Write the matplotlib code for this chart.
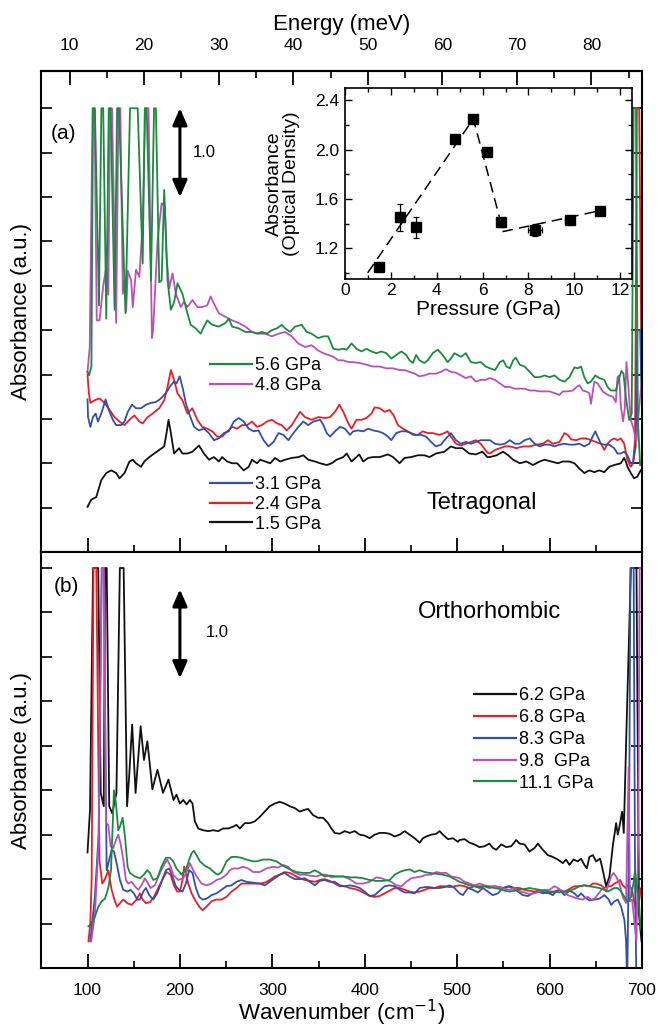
import numpy as np
import matplotlib
matplotlib.use("Agg")
import matplotlib.pyplot as plt
from matplotlib.ticker import MultipleLocator, NullFormatter
from matplotlib.lines import Line2D

plt.rcParams['font.family'] = ['Liberation Sans', 'DejaVu Sans']

# ---------------- data: panel (a) tetragonal (offset absorbance) ----------------
a56_wn = [100, 101.7, 104.2, 106, 108, 112.4, 115, 117, 120.3, 123, 125, 129.3, 132, 134, 141.1, 146, 154.3,
          159.7, 162, 164, 168.7, 172, 174, 177.6, 180.2, 183, 186.6, 190.2, 193.8, 197.4, 202.7, 208.1, 211.7,
          217.1, 222.4, 226, 229.6, 235, 242.2, 249.3, 252.9, 256.5, 263.7, 270.8, 278, 283.4, 288.8, 294.1,
          299.5, 304.9, 310.3, 313.8, 319.2, 324.6, 331.8, 337.1, 342.5, 349.7, 355.1, 360.4, 366, 371.4, 376.8,
          380.4, 385.7, 391.1, 396.5, 401.9, 407.3, 412.6, 418, 423.4, 428.8, 434.1, 439.5, 444.9, 448.5, 452.1,
          455.6, 459.2, 464.6, 468.2, 473.6, 479, 484.3, 489.7, 493.3, 496.9, 500.5, 504.1, 509.4, 514.8, 520.2,
          525.5, 530.9, 535.5, 540.9, 546.3, 549.8, 553.4, 557, 560.6, 563.5, 567.8, 573.1, 578.5, 583.9, 589.3,
          594.6, 600, 605.4, 610.8, 616.1, 621.5, 626.9, 630.5, 634.1, 637.6, 641.2, 644.8, 649.5, 653.8, 659.2,
          662.7, 666.3, 671.7, 675.3, 677.8, 680, 682.5, 686.1, 688.9, 691, 693.5, 695.5, 698]
a56_ab = [2.03, 1.99, 2.09, 5.0, 5.0, 2.78, 5.0, 5.0, 2.63, 5.0, 5.0, 2.73, 5.0, 5.0, 2.69, 5.0, 5.0,
          3.25, 5.0, 5.0, 3.06, 5.0, 5.0, 3.04, 3.06, 4.08, 3.06, 2.73, 2.82, 3.03, 2.91, 2.69, 2.56,
          2.52, 2.46, 2.54, 2.61, 2.56, 2.54, 2.58, 2.63, 2.54, 2.52, 2.48, 2.48, 2.46, 2.48, 2.46,
          2.50, 2.52, 2.56, 2.52, 2.48, 2.54, 2.56, 2.48, 2.46, 2.41, 2.43, 2.43, 2.29, 2.28, 2.29,
          2.28, 2.35, 2.29, 2.26, 2.29, 2.26, 2.24, 2.26, 2.24, 2.18, 2.22, 2.26, 2.22, 2.16, 2.13,
          2.22, 2.16, 2.13, 2.16, 2.24, 2.28, 2.22, 2.14, 2.18, 2.24, 2.22, 2.20, 2.24, 2.14, 2.13,
          2.14, 2.09, 2.07, 2.05, 2.14, 2.16, 2.09, 2.07, 2.16, 2.19, 2.11, 2.09, 2.03, 1.97, 1.97,
          1.99, 1.97, 1.99, 1.94, 1.92, 1.97, 2.08, 2.07, 2.09, 1.97, 1.90, 1.92, 1.99, 1.96, 1.94,
          1.86, 1.82, 1.82, 1.96, 2.04, 2.01, 1.75, 1.49, 1.56, 5.0, 5.0, 1.5, 0.98]

a48_wn = [100, 102.4, 105.5, 107.5, 110, 113, 117, 120.3, 122.5, 124.5, 126.5, 131, 133.5, 135.5, 138.2, 140,
          141.8, 143.6, 147.2, 149, 152.5, 156.1, 159.7, 162.5, 166, 169.7, 171, 175.8, 180.2, 183.7, 185.5,
          188.4, 192, 195.6, 200.9, 204.5, 208.1, 213.5, 218.9, 224.2, 229.6, 233.2, 236.8, 242.2, 249.3,
          256.5, 263.7, 270.8, 278, 285.2, 292.3, 299.5, 306.7, 313.8, 321, 328.2, 335.3, 342.5, 349.7, 355.1,
          360.4, 366, 371.4, 376.8, 382.2, 387.5, 394.7, 401.9, 409.1, 416.2, 423.4, 430.6, 437.7, 443.1, 448.5,
          453.8, 459.2, 464.6, 470, 477.1, 482.5, 487.9, 493.3, 498.7, 504.1, 509.4, 514.8, 520.2, 525.5, 530.9,
          535.5, 540.9, 546.3, 551.6, 557, 562.4, 567.8, 573.1, 578.5, 583.9, 589.3, 594.6, 600, 605.4, 610.8,
          614.4, 619.8, 625.1, 629.4, 632.3, 635.9, 639.4, 643, 644.8, 648.4, 652, 657.4, 662.9, 668.3, 671.7,
          673.5, 675.3, 677.1, 679.6, 681.4, 683.2, 685.3, 687.8, 690.3, 694, 697, 699.5]
a48_ab = [2.03, 2.31, 5.0, 5.0, 2.61, 2.61, 3.0, 3.21, 2.9, 5.0, 5.0, 2.58, 5.0, 5.0, 2.91, 3.06,
          2.71, 3.17, 3.06, 2.76, 3.18, 3.10, 3.70, 5.0, 5.0, 2.41, 2.5, 3.51, 3.93, 3.89, 3.33,
          2.97, 3.14, 2.91, 2.76, 2.82, 2.76, 2.84, 2.76, 2.76, 2.78, 2.88, 2.80, 2.69, 2.65,
          2.61, 2.58, 2.54, 2.48, 2.46, 2.46, 2.43, 2.46, 2.48, 2.43, 2.35, 2.31, 2.33, 2.27, 2.24,
          2.22, 2.20, 2.16, 2.16, 2.14, 2.14, 2.13, 2.11, 2.09, 2.09, 2.07, 2.07, 2.05, 2.05, 2.03,
          2.01, 1.98, 1.99, 2.01, 2.01, 2.03, 2.06, 2.03, 2.02, 1.99, 1.96, 1.98, 1.92, 1.94, 1.94,
          1.96, 1.94, 1.90, 1.86, 1.86, 1.84, 1.84, 1.84, 1.82, 1.82, 1.81, 1.81, 1.81, 1.79, 1.77,
          1.81, 1.81, 1.82, 1.86, 1.88, 1.82, 1.81, 1.79, 1.67, 1.92, 1.90, 1.81, 1.77, 1.75, 1.69,
          1.97, 1.99, 1.64, 1.47, 1.62, 2.14, 1.86, 1.49, 1.41, 1.25, 1.64, 1.9]

a31_wn = [100, 100.6, 103.1, 105.9, 108.8, 111.3, 114.9, 119.6, 123.1, 127.4, 131, 136.4, 140, 143.6, 148.2,
          152.5, 157.9, 163.3, 168.7, 174, 179.4, 184.8, 190.2, 193.7, 196.3, 199.8, 203.4, 206.3, 209.9, 215.3,
          220.6, 226, 231.4, 236.8, 242.1, 247.5, 252.9, 258.3, 263.6, 269, 274.4, 279.8, 285.1, 290.5, 295.9,
          301.3, 306.7, 312, 317.4, 322.8, 328.2, 333.5, 338.9, 344.3, 351.7, 355.3, 358.9, 362.5, 367.8, 373.2,
          378.6, 384, 387.5, 392.9, 398.3, 403.7, 409.1, 414.4, 419.8, 425.2, 428.8, 434.1, 439.5, 444.9, 450.3,
          455.6, 461, 466.4, 471.8, 477.1, 482.5, 487.9, 493.3, 498.7, 504.1, 509.4, 514.8, 520.2, 525.5, 530.9,
          535.5, 540.9, 546.3, 551.6, 557, 562.4, 567.8, 573.1, 578.5, 583.9, 589.3, 594.6, 600, 605.4, 610.8,
          616.1, 621.5, 626.9, 632.3, 637.6, 643, 646.6, 649.5, 652, 655.6, 659.2, 664.5, 669.9, 673.5, 677.1,
          680.7, 684.2, 687.8, 690.3, 693.2, 695, 698, 699.5]
a31_ab = [1.72, 1.52, 1.41, 1.52, 1.56, 1.47, 1.56, 1.72, 1.60, 1.49, 1.43, 1.43, 1.47, 1.58, 1.66,
          1.62, 1.62, 1.66, 1.68, 1.69, 1.73, 1.79, 1.88, 1.92, 1.90, 1.98, 1.83, 1.68, 1.56, 1.41,
          1.37, 1.39, 1.34, 1.26, 1.28, 1.34, 1.36, 1.47, 1.51, 1.47, 1.39, 1.36, 1.37, 1.26, 1.19,
          1.24, 1.34, 1.32, 1.26, 1.34, 1.41, 1.47, 1.43, 1.47, 1.49, 1.43, 1.34, 1.30, 1.36, 1.41,
          1.39, 1.32, 1.36, 1.37, 1.36, 1.39, 1.37, 1.36, 1.34, 1.30, 1.26, 1.34, 1.36, 1.36, 1.34,
          1.32, 1.32, 1.30, 1.24, 1.19, 1.21, 1.28, 1.34, 1.26, 1.22, 1.24, 1.22, 1.24, 1.26, 1.26,
          1.26, 1.22, 1.21, 1.22, 1.26, 1.22, 1.22, 1.26, 1.28, 1.22, 1.19, 1.21, 1.21, 1.19, 1.21,
          1.22, 1.21, 1.21, 1.22, 1.19, 1.22, 1.30, 1.36, 1.30, 1.22, 1.21, 1.21, 1.17, 1.11, 1.11,
          1.13, 1.09, 1.00, 1.00, 1.19, 2.5, 2.5, 1.8]

a24_wn = [100, 101.5, 103.1, 107.7, 113.1, 118.5, 123.9, 129.2, 134.6, 140, 145.4, 150.7, 156.1, 159.7, 165.1,
          170.5, 177.6, 183, 186.6, 190.2, 193.7, 197.3, 202.7, 208.1, 213.5, 218.8, 224.2, 229.6, 235, 240.3,
          245.7, 251.1, 256.5, 261.9, 267.2, 272.6, 278, 283.4, 288.7, 294.1, 299.5, 304.9, 310.2, 315.6, 321,
          326.4, 330, 335.3, 342.5, 349.7, 357.1, 362.5, 367.8, 372.5, 376.8, 382.2, 385.7, 391.1, 396.5, 401.9,
          407.3, 410.8, 416.2, 421.6, 427, 431.3, 435.9, 441.3, 446.7, 452.1, 457.4, 462.8, 468.2, 473.6, 480.7,
          486.1, 489.7, 493.3, 498.7, 504.1, 509.4, 514.8, 520.2, 525.5, 529.1, 532.7, 535.5, 540.9, 546.3, 551.6,
          557, 564.2, 571.3, 578.5, 585.7, 592.8, 598.2, 603.6, 610.8, 616.1, 619.7, 623.3, 628.7, 634.1, 639.4,
          644.8, 650.2, 655.6, 659.2, 662.7, 666.3, 669.9, 673.5, 677.1, 680.7, 684.2, 687.8, 690.3, 692.5, 694.5,
          697, 699.5]
a24_ab = [2.0, 1.79, 1.68, 1.71, 1.73, 1.68, 1.60, 1.52, 1.47, 1.43, 1.49, 1.54, 1.47, 1.45, 1.52,
          1.56, 1.62, 1.71, 1.86, 2.05, 1.94, 1.79, 1.71, 1.56, 1.62, 1.49, 1.41, 1.39, 1.36, 1.30,
          1.30, 1.36, 1.41, 1.39, 1.43, 1.43, 1.47, 1.41, 1.43, 1.47, 1.49, 1.45, 1.43, 1.37, 1.43,
          1.52, 1.58, 1.52, 1.49, 1.52, 1.51, 1.52, 1.58, 1.66, 1.58, 1.45, 1.39, 1.49, 1.49, 1.51,
          1.56, 1.63, 1.62, 1.58, 1.60, 1.54, 1.43, 1.39, 1.36, 1.32, 1.32, 1.36, 1.34, 1.34, 1.32,
          1.34, 1.36, 1.30, 1.22, 1.20, 1.22, 1.24, 1.26, 1.22, 1.17, 1.12, 1.11, 1.15, 1.17, 1.19,
          1.19, 1.17, 1.19, 1.19, 1.21, 1.22, 1.26, 1.22, 1.24, 1.34, 1.32, 1.27, 1.26, 1.28, 1.28,
          1.26, 1.24, 1.22, 1.15, 1.22, 1.26, 1.28, 1.26, 1.28, 1.22, 1.04, 0.96, 1.00, 1.26, 5.0,
          5.0, 2.0]

a15_wn = [100, 104.1, 109.5, 114.9, 120.3, 125.6, 131, 134.6, 140, 145.4, 149, 152.5, 157.9, 161.5, 166.9,
          172.2, 177.6, 183, 185.5, 187.7, 190.2, 193.7, 199.1, 202.7, 208.1, 213.5, 220.6, 226, 231.4, 236.8,
          242.1, 245.7, 251.1, 256.5, 261.9, 269, 274.4, 278, 283.4, 287, 292.3, 297.7, 303, 308.4, 313.8, 321,
          328.2, 333.5, 338.9, 346.1, 351.7, 358.9, 364.2, 369.6, 376.8, 380.4, 385.7, 391.1, 394, 398.3, 403.7,
          409.1, 416.2, 425.2, 430.6, 437.7, 443.1, 450.3, 457.4, 464.6, 470, 477.1, 486.1, 493.3, 498.7, 505.8,
          513, 520.2, 527.3, 532.7, 535.5, 542.7, 549.8, 555.2, 560.6, 567.8, 574.9, 582.1, 589.3, 594.6, 601.8,
          609, 614.4, 621.5, 626.9, 632.3, 637.6, 643, 648.4, 653.8, 659.2, 664.5, 669.9, 677.1, 680.7, 682.5,
          684.3, 687.9, 691.4, 695, 698.6]
a15_ab = [0.51, 0.59, 0.62, 0.81, 0.89, 0.92, 0.89, 0.83, 0.89, 1.02, 1.04, 1.00, 0.96, 1.02, 1.07,
          1.11, 1.15, 1.19, 1.34, 1.49, 1.34, 1.11, 1.17, 1.11, 1.11, 1.13, 1.20, 1.11, 1.04, 1.07,
          1.02, 1.07, 1.02, 1.00, 1.00, 0.92, 0.96, 1.04, 1.00, 1.04, 1.02, 1.00, 1.06, 1.02, 1.04, 1.06,
          1.07, 1.09, 1.04, 1.02, 1.00, 0.98, 1.00, 1.04, 1.07, 1.11, 1.02, 1.07, 1.10, 1.02, 1.06,
          1.07, 1.07, 1.10, 1.07, 1.00, 1.06, 1.07, 1.09, 1.09, 1.07, 1.11, 1.13, 1.19, 1.17, 1.17,
          1.11, 1.10, 1.13, 1.07, 1.07, 1.09, 1.13, 1.09, 1.04, 1.00, 1.02, 0.98, 1.02, 1.04, 1.02,
          1.00, 1.02, 1.02, 1.00, 0.94, 0.89, 0.92, 0.90, 0.92, 0.90, 0.96, 0.98, 1.00, 1.06, 1.02,
          0.96, 0.89, 0.83, 0.85, 0.92]

# ---------------- data: panel (b) orthorhombic (offset absorbance) ----------------
b62_wn = [100, 102.7, 106, 111.6, 114.3, 117.6, 119, 120.8, 123.5, 126.8, 131.3, 135, 139.1, 142.8, 145.1,
          148.3, 152, 157.5, 161.1, 164.8, 170.2, 175.7, 181.7, 187.6, 193.1, 196.3, 199.9, 203.6, 207.2, 210.8,
          213.6, 216.2, 219.8, 225.2, 230.6, 236, 241.4, 246.8, 252.2, 257.6, 261.2, 264.8, 270.2, 275.6, 281,
          286.4, 291.8, 297.2, 302.6, 308, 313.4, 318.8, 324.2, 329.7, 335.1, 338.7, 344.1, 349.5, 354.9, 360.3,
          363.9, 367.5, 372.9, 378.3, 383.7, 389.1, 394.5, 399.9, 405.3, 410.7, 416.1, 421.5, 426.9, 432.4, 437.8,
          443.2, 448.6, 454, 459.4, 463, 466.6, 472, 477.4, 481, 484.6, 490, 495.4, 500.8, 502.6, 508, 513.4,
          518.8, 524.2, 529.6, 535, 538.6, 542.3, 547.7, 553.1, 558.5, 563.9, 567.5, 572.9, 578.3, 583.7, 587.3,
          592.7, 598.1, 603.5, 608.9, 614.3, 617.9, 621.5, 625.9, 630.5, 634.1, 637.7, 640.3, 643.1, 646.8, 650.4,
          654.7, 657.6, 661.2, 664.8, 668.4, 672, 673.8, 675.6, 678.5, 680.3, 683, 688, 694, 696.8, 699.5]
b62_ab = [1.30, 1.78, 4.5, 4.5, 1.97, 1.82, 4.5, 4.5, 1.82, 1.74, 1.97, 4.5, 4.5, 1.82, 2.16,
          2.74, 1.97, 2.72, 2.34, 2.55, 2.01, 2.23, 1.97, 2.12, 1.89, 1.95, 1.85, 1.89, 1.84, 1.89,
          1.85, 1.65, 1.57, 1.55, 1.54, 1.55, 1.54, 1.57, 1.57, 1.59, 1.61, 1.57, 1.63, 1.63, 1.65,
          1.70, 1.76, 1.82, 1.85, 1.87, 1.85, 1.82, 1.80, 1.76, 1.78, 1.79, 1.72, 1.69, 1.69, 1.63,
          1.57, 1.52, 1.51, 1.54, 1.52, 1.54, 1.50, 1.49, 1.46, 1.50, 1.52, 1.52, 1.51, 1.48, 1.50,
          1.54, 1.50, 1.46, 1.41, 1.46, 1.48, 1.50, 1.51, 1.54, 1.50, 1.45, 1.46, 1.42, 1.44, 1.45, 1.41,
          1.39, 1.36, 1.37, 1.40, 1.35, 1.33, 1.39, 1.36, 1.37, 1.44, 1.40, 1.39, 1.31, 1.35, 1.40,
          1.33, 1.27, 1.25, 1.22, 1.18, 1.22, 1.16, 1.22, 1.20, 1.23, 1.16, 1.12, 1.25, 1.27, 1.20,
          1.23, 1.10, 0.92, 1.03, 1.37, 1.63, 1.50, 1.59, 1.76, 1.52, 2.6, 4.5, 4.5, 0.6, 0.3]

b68_wn = [101, 103, 104.5, 106.5, 109.5, 113, 116, 118.9, 122.5, 126.1, 129.7, 132.2, 135.1, 138.7, 143, 147.7,
          153.1, 156.7, 159.6, 163.2, 167.5, 171.8, 176.5, 181.9, 185.5, 189.9, 193.5, 197.1, 199.9, 202.8, 204.6,
          206.4, 209, 212.6, 216.2, 220.9, 224.5, 228.8, 234.2, 239.6, 245, 250.4, 255.8, 261.2, 266.6, 272,
          279.2, 286.4, 291.8, 297.2, 302.6, 308, 313.4, 318.8, 324.2, 329.7, 335.1, 340.5, 345.9, 351.3, 356.7,
          362.1, 367.5, 372.9, 378.3, 383.7, 389.1, 394.5, 399.9, 405.3, 410.7, 416.1, 421.5, 426.9, 432.4, 437.8,
          443.2, 448.6, 454, 459.4, 464.8, 470.2, 475.6, 481, 486.4, 491.8, 497.2, 502.6, 508, 513.4, 518.8, 524.2,
          529.6, 535, 540.4, 545.9, 551.3, 556.7, 562.1, 567.5, 572.9, 578.3, 583.7, 589.1, 594.5, 599.9, 605.3,
          610.7, 616.1, 621.5, 626.9, 632.3, 637.7, 643.1, 646.8, 650.4, 655.8, 659.4, 663, 666.6, 670.2, 673.8,
          676.3, 679.2, 682.1, 684.6, 687.1, 689.3, 691.8, 693.6, 695.4, 697.9, 700]
b68_ab = [0.30, 0.50, 1.0, 4.5, 4.5, 1.20, 0.95, 1.00, 1.10, 0.88, 0.75, 0.69, 0.73, 0.77, 0.73, 0.71,
          0.77, 0.84, 0.77, 0.73, 0.74, 0.80, 0.90, 1.01, 1.08, 1.05, 0.93, 0.86, 0.86, 0.99, 1.14,
          1.07, 0.95, 0.84, 0.77, 0.69, 0.65, 0.69, 0.75, 0.77, 0.77, 0.80, 0.86, 0.90, 0.95, 0.95,
          0.95, 0.95, 0.96, 0.99, 1.03, 1.05, 1.08, 1.07, 1.04, 1.01, 0.99, 0.98, 0.97, 0.99, 1.00,
          0.98, 0.95, 0.92, 0.92, 0.90, 0.89, 0.87, 0.84, 0.81, 0.80, 0.81, 0.84, 0.87, 0.90, 0.90,
          0.88, 0.86, 0.85, 0.86, 0.88, 0.90, 0.90, 0.92, 0.92, 0.91, 0.92, 0.93, 0.92, 0.90, 0.92, 0.90,
          0.92, 0.90, 0.92, 0.91, 0.90, 0.92, 0.90, 0.90, 0.88, 0.87, 0.86, 0.87, 0.85, 0.84, 0.86,
          0.88, 0.86, 0.89, 0.92, 0.92, 0.93, 0.92, 0.95, 0.95, 0.93, 0.90, 0.92, 0.92, 0.95, 0.97,
          0.99, 0.93, 0.90, 0.93, 0.92, 0.88, 0.73, 0.65, 0.77, 0.90, 0.75]

b83_wn = [103, 108, 112, 115.3, 117.6, 120.7, 123.6, 126.1, 128.6, 131.5, 135.1, 138.7, 143, 146.6, 150.2, 153.8,
          156.7, 160.3, 163.2, 166.8, 171.1, 175.4, 180.1, 184.8, 188.4, 192, 195.6, 199.2, 202.8, 206.4, 210,
          213.6, 217.3, 220.9, 224.5, 228.8, 234.2, 239.6, 245, 250.4, 255.8, 261.2, 266.6, 272, 279.2, 286.4,
          291.8, 297.2, 302.6, 308, 313.4, 318.8, 324.2, 329.7, 335.1, 340.5, 345.9, 351.3, 356.7, 362.1, 367.5,
          372.9, 378.3, 383.7, 389.1, 394.5, 399.9, 405.3, 410.7, 416.1, 421.5, 426.9, 432.4, 437.8, 443.2, 448.6,
          454, 459.4, 464.8, 470.2, 475.6, 481, 486.4, 491.8, 497.2, 502.6, 506.2, 511.6, 517, 522.4, 527.8, 533.2,
          538.6, 544.1, 549.5, 554.9, 560.3, 565.7, 571.1, 576.5, 581.9, 587.3, 592.7, 598.1, 603.5, 607.1, 610.7,
          616.1, 621.5, 626.9, 630.5, 634.1, 637.7, 643.1, 648.6, 654, 659.4, 664.1, 666.6, 670.2, 673.8, 677.4,
          681, 682.8, 684, 686, 687.5, 691, 692.5, 694]
b83_ab = [0.30, 0.80, 1.50, 4.5, 4.5, 1.10, 1.22, 1.33, 1.31, 1.18, 0.99, 0.88, 0.86, 0.88, 0.84, 0.77,
          0.77, 0.86, 0.90, 0.82, 0.77, 0.84, 0.97, 1.10, 1.12, 1.03, 0.92, 0.88, 0.86, 0.95, 1.10,
          1.07, 0.90, 0.80, 0.77, 0.78, 0.82, 0.84, 0.88, 0.92, 0.93, 0.97, 0.99, 0.97, 0.96, 0.95,
          0.93, 0.97, 1.01, 1.05, 1.07, 1.03, 1.00, 1.00, 1.01, 0.97, 0.93, 0.98, 0.99, 0.97, 0.97,
          0.93, 0.92, 0.93, 0.92, 0.90, 0.86, 0.81, 0.82, 0.87, 0.92, 0.93, 0.92, 0.88, 0.85, 0.85,
          0.84, 0.90, 0.91, 0.91, 0.90, 0.90, 0.91, 0.93, 0.90, 0.84, 0.82, 0.90, 0.88, 0.85, 0.90, 0.86,
          0.82, 0.84, 0.90, 0.92, 0.90, 0.86, 0.82, 0.81, 0.84, 0.86, 0.84, 0.85, 0.82, 0.86, 0.88,
          0.82, 0.87, 0.84, 0.80, 0.84, 0.80, 0.76, 0.77, 0.78, 0.82, 0.77, 0.71, 0.75, 0.77, 0.69,
          0.54, 0.30, -0.2, 1.5, 4.5, 4.5, 1.0, -0.2]

b98_wn = [104, 108, 112, 115.5, 117.5, 120, 122.5, 125, 127.9, 130.8, 133.3, 135.8, 138.7, 141.6, 144.1, 147.7,
          151.3, 154.9, 158.5, 162.1, 164.6, 168.2, 172.9, 178.3, 182.7, 186.3, 189.9, 192.7, 198.2, 203.6, 207.2,
          210.8, 214.4, 218, 223.4, 228.8, 234.2, 239.6, 245, 250.4, 254, 257.6, 263, 268.4, 273.8, 279.2, 286.4,
          293.6, 300.8, 306.2, 311.6, 317, 322.4, 329.7, 335.1, 340.5, 347.7, 353.1, 358.5, 363.9, 369.3, 376.5,
          383.7, 390.9, 398.1, 405.3, 412.5, 417.9, 423.3, 428.8, 434.2, 439.6, 445, 450.4, 455.8, 461.2, 466.6,
          472, 477.4, 482.8, 488.2, 493.6, 499, 502.6, 508, 513.4, 518.8, 524.2, 529.6, 535, 540.4, 545.9, 551.3,
          556.7, 562.1, 567.5, 572.9, 578.3, 583.7, 589.1, 594.5, 599.9, 605.3, 608.9, 614.3, 619.7, 625.1, 630.5,
          635.9, 641.3, 645, 648.6, 653.2, 657.6, 661.2, 664.1, 666.6, 669.1, 672, 675.6, 679.2, 682.8, 685.5,
          687, 689.3, 692, 694, 696, 697.5, 700]
b98_ab = [0.30, 0.60, 1.40, 4.5, 4.5, 1.63, 1.61, 1.37, 1.35, 1.44, 1.50, 1.40, 1.22, 0.99, 0.95, 0.97,
          0.92, 0.88, 0.93, 1.01, 0.97, 0.90, 0.93, 1.07, 1.16, 1.22, 1.14, 1.05, 0.99, 1.01, 1.08,
          1.18, 1.10, 1.03, 0.95, 0.93, 0.95, 0.99, 1.01, 1.05, 1.10, 1.12, 1.12, 1.14, 1.12, 1.08, 1.08,
          1.12, 1.14, 1.13, 1.16, 1.14, 1.08, 1.05, 1.05, 1.04, 1.03, 1.05, 1.05, 1.02, 1.03, 1.03,
          1.00, 0.95, 0.95, 0.97, 1.02, 1.01, 0.99, 0.97, 0.93, 0.92, 0.97, 1.01, 1.02, 1.03, 1.05,
          1.05, 1.08, 1.07, 1.07, 1.03, 1.02, 1.01, 0.97, 0.95, 0.93, 0.95, 0.93, 0.92, 0.92, 0.91, 0.89,
          0.88, 0.90, 0.86, 0.85, 0.83, 0.84, 0.86, 0.88, 0.88, 0.92, 0.90, 0.86, 0.82, 0.80, 0.78,
          0.77, 0.80, 0.77, 0.78, 0.84, 0.90, 0.86, 0.95, 1.03, 1.07, 1.03, 0.95, 0.80, 0.73, 2.26,
          0.75, 0.77, 0.50, 0.30, 1.5, 4.5, 4.5]

b111_wn = [100.9, 104.5, 108.1, 111.7, 115.3, 118.9, 122.5, 125.4, 127.2, 128.6, 130.8, 133.3, 135.1, 138, 140.5,
           143.4, 145.9, 151.3, 156.7, 161, 164.6, 167.5, 171.1, 175.4, 180.1, 184.8, 189.1, 192.7, 196.3, 201.8,
           206.4, 210, 212.6, 215.1, 218, 221.6, 227, 232.4, 237.8, 241.4, 245, 250.4, 255.8, 261.2, 266.6, 272,
           279.2, 282.8, 290, 297.2, 304.4, 311.6, 318.8, 326, 333.3, 340.5, 345.9, 351.3, 356.7, 362.1, 369.3,
           376.5, 383.7, 390.9, 398.1, 405.3, 412.5, 419.7, 427, 432.4, 437.8, 443.2, 448.6, 454, 459.4, 464.8,
           470.2, 477.4, 484.6, 491.8, 497.2, 502.6, 508, 513.4, 518.8, 524.2, 529.6, 535, 540.4, 545.9, 551.3,
           556.7, 562.1, 567.5, 572.9, 578.3, 583.7, 589.1, 594.5, 599.9, 605.3, 610.7, 616.1, 621.5, 626.9, 632.3,
           637.7, 643.1, 648.6, 654, 659.4, 663, 666.6, 670.2, 673.8, 677.4, 681, 684.6, 688.2, 690.7, 692.5,
           694.3, 696.5, 698.3, 700]
b111_ab = [0.47, 0.50, 0.58, 0.69, 0.75, 0.78, 0.90, 1.10, 1.59, 2.00, 1.85, 1.55, 1.59, 1.69, 1.48,
           1.14, 1.07, 1.03, 1.01, 1.05, 1.10, 1.07, 0.99, 1.01, 1.14, 1.24, 1.24, 1.20, 1.12, 1.05,
           1.10, 1.22, 1.29, 1.32, 1.27, 1.20, 1.15, 1.12, 1.07, 1.05, 1.08, 1.20, 1.25, 1.25, 1.24, 1.22,
           1.20, 1.20, 1.22, 1.22, 1.20, 1.15, 1.11, 1.08, 1.07, 1.07, 1.10, 1.07, 1.03, 1.04, 1.03,
           1.03, 1.02, 1.02, 1.01, 0.99, 0.98, 0.98, 0.99, 1.05, 1.08, 1.10, 1.11, 1.08, 1.10, 1.08,
           1.07, 1.06, 1.05, 1.03, 1.00, 0.97, 0.95, 0.93, 0.92, 0.92, 0.92, 0.91, 0.90, 0.89, 0.87,
           0.86, 0.87, 0.88, 0.89, 0.90, 0.89, 0.88, 0.87, 0.86, 0.86, 0.85, 0.86, 0.87, 0.89, 0.92,
           0.93, 0.92, 0.91, 0.90, 0.88, 0.86, 0.88, 0.90, 0.90, 0.86, 0.80, 0.75, 0.80, 0.95, 1.10,
           0.92, 0.77, 0.47, 0.40]

# ---------------- inset data ----------------
p_gpa = [1.5, 2.4, 3.1, 4.8, 5.6, 6.2, 6.8, 8.3, 9.8, 11.1]
od_val = [1.05, 1.45, 1.37, 2.09, 2.25, 1.98, 1.41, 1.35, 1.43, 1.50]
od_yerr = [0.0, 0.11, 0.085, 0.0, 0.03, 0.0, 0.035, 0.05, 0.03, 0.0]
od_xerr = [0.0, 0.0, 0.0, 0.0, 0.1, 0.0, 0.0, 0.3, 0.2, 0.0]
guide_p = [1.0, 5.6, 6.9, 11.0]
guide_v = [1.0, 2.25, 1.335, 1.50]

GREEN = '#1a8a3e'
MAGENTA = '#bb50b8'
RED = '#ee1c24'
BLUE = '#3050aa'
BLACK = '#111111'

# ---------------- figure ----------------
fig = plt.figure(figsize=(6.63, 10.32), dpi=100)
ax1 = fig.add_axes([0.0623, 0.4651, 0.9060, 0.4661])
ax2 = fig.add_axes([0.0623, 0.0620, 0.9060, 0.4031])

LW = 1.3
ax1.plot(a15_wn, a15_ab, color=BLACK, lw=LW)
ax1.plot(a24_wn, a24_ab, color=RED, lw=LW)
ax1.plot(a31_wn, a31_ab, color=BLUE, lw=LW)
ax1.plot(a48_wn, a48_ab, color=MAGENTA, lw=LW)
ax1.plot(a56_wn, a56_ab, color=GREEN, lw=LW)

ax2.plot(b62_wn, b62_ab, color=BLACK, lw=LW)
ax2.plot(b68_wn, b68_ab, color=RED, lw=LW)
ax2.plot(b83_wn, b83_ab, color=BLUE, lw=LW)
ax2.plot(b98_wn, b98_ab, color=MAGENTA, lw=LW)
ax2.plot(b111_wn, b111_ab, color=GREEN, lw=LW)

for ax, ytop in ((ax1, 5.42), (ax2, 4.68)):
    ax.set_xlim(50, 700)
    ax.set_ylim(0, ytop)
    ax.set_yticks(np.arange(0.5, ytop, 0.5))
    ax.yaxis.set_major_formatter(NullFormatter())
    ax.xaxis.set_major_locator(MultipleLocator(100))
    ax.xaxis.set_minor_locator(MultipleLocator(50))
    ax.tick_params(axis='y', which='both', direction='in', left=True, right=True, length=8, width=1.2)
    ax.tick_params(axis='x', which='major', direction='in', length=10, width=1.3, top=False)
    ax.tick_params(axis='x', which='minor', direction='in', length=5, width=1.2, top=False)
    for s in ax.spines.values():
        s.set_linewidth(1.5)
    ax.set_ylabel('Absorbance (a.u.)', fontsize=16, labelpad=3)

ax1.tick_params(axis='x', labelbottom=False)
ax2.tick_params(axis='x', labelsize=12.5, pad=11)
ax2.set_xlabel('Wavenumber (cm$^{-1}$)', fontsize=16, labelpad=0)

# top energy axis
CM_PER_MEV = 8.0655
sec = ax1.secondary_xaxis('top', functions=(lambda w: w / CM_PER_MEV, lambda e: e * CM_PER_MEV))
sec.set_xticks(np.arange(10, 81, 10))
sec.xaxis.set_minor_locator(MultipleLocator(5))
sec.tick_params(axis='x', which='major', direction='in', length=10, width=1.3, labelsize=12.5, pad=13)
sec.tick_params(axis='x', which='minor', direction='in', length=5, width=1.2)
sec.spines['top'].set_linewidth(1.5)
sec.set_xlabel('Energy (meV)', fontsize=16, labelpad=6)

# arrows and labels
arrow_kw = dict(arrowstyle='<|-|>,head_length=0.5,head_width=0.22', lw=2.2, color='black',
                shrinkA=0, shrinkB=0, mutation_scale=20)
ax1.annotate('', xy=(200, 5.0), xytext=(200, 4.0), arrowprops=arrow_kw)
ax1.text(226, 4.5, '1.0', fontsize=12, ha='center', va='center')
ax2.annotate('', xy=(200, 4.26), xytext=(200, 3.26), arrowprops=arrow_kw)
ax2.text(240, 3.78, '1.0', fontsize=12, ha='center', va='center')
ax1.text(74, 4.72, '(a)', fontsize=15, ha='center', va='center')
ax2.text(77, 4.29, '(b)', fontsize=15, ha='center', va='center')
ax1.text(527, 0.55, 'Tetragonal', fontsize=17, ha='center', va='center')
ax2.text(535, 4.01, 'Orthorhombic', fontsize=17, ha='center', va='center')

# legends
def mk(c):
    return Line2D([], [], color=c, lw=1.6)

leg_kw = dict(frameon=False, fontsize=13, handlelength=2.3, handletextpad=0.2,
              borderpad=0, borderaxespad=0, loc='center left')
fig.legend([mk(GREEN), mk(MAGENTA)], ['5.6 GPa', '4.8 GPa'], labelspacing=0.15,
           bbox_to_anchor=(210 / 663, 1 - 375.5 / 1032), **leg_kw)
fig.legend([mk(BLUE), mk(RED), mk(BLACK)], ['3.1 GPa', '2.4 GPa', '1.5 GPa'], labelspacing=0.15,
           bbox_to_anchor=(210 / 663, 1 - 504.5 / 1032), **leg_kw)
fig.legend([mk(BLACK), mk(RED), mk(BLUE), mk(MAGENTA), mk(GREEN)],
           ['6.2 GPa', '6.8 GPa', '8.3 GPa', '9.8  GPa', '11.1 GPa'], labelspacing=0.27,
           bbox_to_anchor=(474 / 663, 1 - 739.5 / 1032), **leg_kw)

# inset
axi = fig.add_axes([0.520, 0.7297, 0.433, 0.185])
axi.plot(guide_p, guide_v, color='black', lw=1.1, dashes=(7, 4))
axi.errorbar(p_gpa, od_val, yerr=od_yerr, xerr=od_xerr, fmt='s', color='black', ms=6.5,
             elinewidth=0.9, capsize=2, capthick=0.9)
axi.set_xlim(0, 12.5)
axi.set_ylim(0.95, 2.5)
axi.xaxis.set_major_locator(MultipleLocator(2))
axi.xaxis.set_minor_locator(MultipleLocator(1))
axi.set_yticks([1.2, 1.6, 2.0, 2.4])
axi.set_yticks([1.0, 1.4, 1.8, 2.2], minor=True)
axi.tick_params(which='both', direction='in', top=True, right=True, labelsize=12.5, width=1.0)
axi.tick_params(which='major', length=5)
axi.tick_params(which='minor', length=3)
axi.tick_params(axis='x', pad=3)
axi.tick_params(axis='y', pad=4)
for s in axi.spines.values():
    s.set_linewidth(1.2)
axi.set_xlabel('Pressure (GPa)', fontsize=15, labelpad=1)
axi.set_ylabel('Absorbance\n(Optical Density)', fontsize=14, labelpad=11, linespacing=1.0)

fig.savefig('out.png', dpi=100)
